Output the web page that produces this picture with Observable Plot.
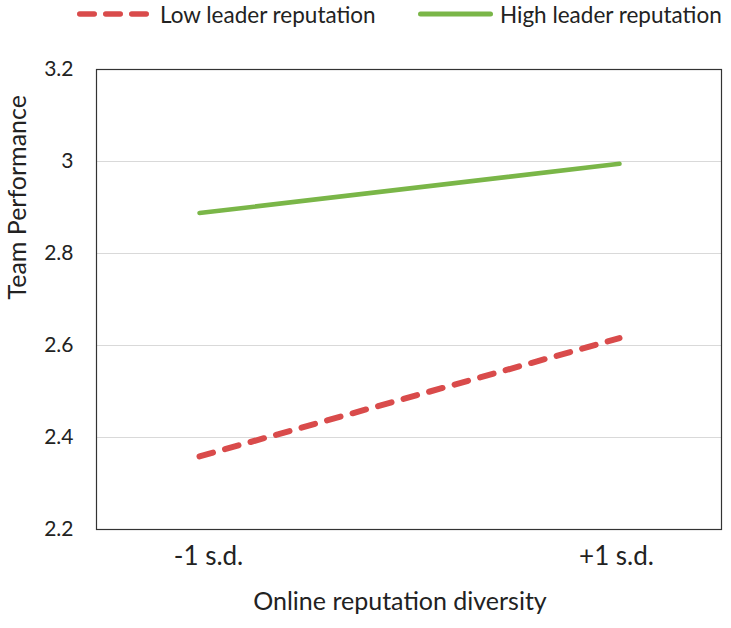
<!DOCTYPE html>
<html>
<head>
<meta charset="utf-8">
<script src="https://cdn.jsdelivr.net/npm/d3@7"></script>
<script src="https://cdn.jsdelivr.net/npm/@observablehq/plot@0.6"></script>
<style>
  body { margin: 0; background: #fff; font-family: Lato, "Open Sans", sans-serif; }
  #legend { position: relative; height: 30px; width: 731px; font-size: 22.5px; color: #222; }
  #legend .item { position: absolute; top: 0px; display: flex; align-items: center; height: 28px; white-space: nowrap; }
</style>
</head>
<body>
<div id="legend"></div>
<div id="chart"></div>
<script>
const categories = ["-1 s.d.", "+1 s.d."];
const seriesNames = ["Low leader reputation", "High leader reputation"];
const lowValues = [2.359, 2.616];
const highValues = [2.888, 2.995];
const yTicks = [2.2, 2.4, 2.6, 2.8, 3, 3.2];
const colors = {"Low leader reputation": "#d94b4b", "High leader reputation": "#7ab648"};

const data = [
  ...categories.map((c, i) => ({x: c, y: lowValues[i], s: seriesNames[0]})),
  ...categories.map((c, i) => ({x: c, y: highValues[i], s: seriesNames[1]}))
];

// legend
const legend = document.getElementById("legend");
const legendPos = [{left: 77, w: 73, gap: 10}, {left: 418, w: 75, gap: 7}];
seriesNames.forEach((name, i) => {
  const div = document.createElement("div");
  div.className = "item";
  div.style.left = legendPos[i].left + "px";
  const sw = i === 0 ? 5.5 : 5;
  const dash = i === 0 ? 'stroke-dasharray="14.5 11.5"' : '';
  div.innerHTML = `<svg width="${legendPos[i].w}" height="14" style="margin-right:${legendPos[i].gap}px;flex:none"><line x1="${sw/2}" x2="${legendPos[i].w - sw/2}" y1="7" y2="7" stroke="${colors[name]}" stroke-width="${sw}" stroke-linecap="round" ${dash}/></svg><span>${name}</span>`;
  legend.appendChild(div);
});

const plot = Plot.plot({
  width: 731,
  height: 598,
  marginTop: 39,
  marginBottom: 99,
  marginLeft: 96,
  marginRight: 10,
  style: {fontFamily: "Lato, 'Open Sans', sans-serif", fontSize: "20px", color: "#222", background: "#fff"},
  x: {type: "point", domain: categories, padding: 0.244, label: null},
  y: {domain: [2.2, 3.2], label: null},
  marks: [
    Plot.gridY(yTicks, {stroke: "#d9d9d9", strokeOpacity: 1, strokeWidth: 1}),
    Plot.frame({stroke: "#333", strokeWidth: 1.2}),
    Plot.axisY({ticks: yTicks, tickSize: 0, tickPadding: 23, fontSize: 21, tickFormat: d => String(d)}),
    Plot.axisX([categories[0]], {tickSize: 0, tickPadding: 17, fontSize: 26, dx: 9}),
    Plot.axisX([categories[1]], {tickSize: 0, tickPadding: 17, fontSize: 26, dx: -3}),
    Plot.text(["Team Performance"], {frameAnchor: "left", dx: -78.5, rotate: -90, fontSize: 25, text: d => d}),
    Plot.text(["Online reputation diversity"], {frameAnchor: "bottom", dx: -9, dy: 80, fontSize: 25, text: d => d}),
    Plot.line(data.filter(d => d.s === seriesNames[1]), {x: "x", y: "y", stroke: colors[seriesNames[1]], strokeWidth: 4.5, strokeLinecap: "round"}),
    Plot.line(data.filter(d => d.s === seriesNames[0]), {x: "x", y: "y", stroke: colors[seriesNames[0]], strokeWidth: 6, strokeLinecap: "round", strokeDasharray: "14 12.5"})
  ]
});
document.getElementById("chart").appendChild(plot);
</script>
</body>
</html>
